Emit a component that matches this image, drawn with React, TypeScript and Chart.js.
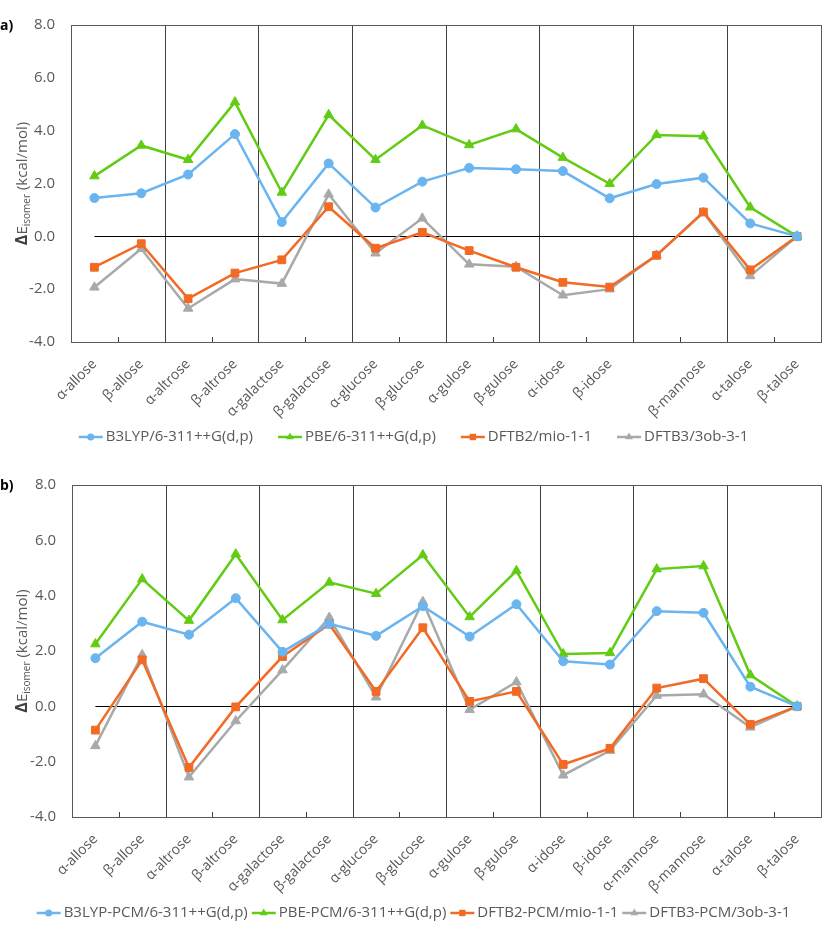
import React, { useEffect, useRef } from 'react';
import { Chart, registerables } from 'chart.js';

Chart.register(...registerables);
Chart.defaults.font.family = "'Open Sans', sans-serif";

// ---------- data ----------
const categories = [
  'α-allose', 'β-allose', 'α-altrose', 'β-altrose', 'α-galactose', 'β-galactose',
  'α-glucose', 'β-glucose', 'α-gulose', 'β-gulose', 'α-idose', 'β-idose',
  'α-mannose', 'β-mannose', 'α-talose', 'β-talose',
];
// panel a) shows no label under α-mannose
const categoriesA = categories.map((c) => (c === 'α-mannose' ? '' : c));

const yTickValues = [-4, -2, 0, 2, 4, 6, 8];

const labelsA = ['B3LYP/6-311++G(d,p)', 'PBE/6-311++G(d,p)', 'DFTB2/mio-1-1', 'DFTB3/3ob-3-1'];
const labelsB = ['B3LYP-PCM/6-311++G(d,p)', 'PBE-PCM/6-311++G(d,p)', 'DFTB2-PCM/mio-1-1', 'DFTB3-PCM/3ob-3-1'];

const b3lypA = [1.45, 1.63, 2.34, 3.87, 0.54, 2.76, 1.09, 2.07, 2.59, 2.54, 2.47, 1.44, 1.98, 2.22, 0.49, 0.0];
const pbeA = [2.28, 3.44, 2.9, 5.08, 1.66, 4.6, 2.9, 4.2, 3.46, 4.06, 2.98, 1.99, 3.84, 3.79, 1.1, 0.0];
const dftb2A = [-1.17, -0.28, -2.36, -1.39, -0.89, 1.12, -0.45, 0.15, -0.54, -1.17, -1.74, -1.92, -0.72, 0.92, -1.27, 0.0];
const dftb3A = [-1.93, -0.47, -2.73, -1.62, -1.79, 1.59, -0.64, 0.68, -1.06, -1.15, -2.23, -2.0, -0.72, 0.9, -1.5, 0.0];

const b3lypB = [1.74, 3.06, 2.59, 3.91, 1.97, 2.98, 2.55, 3.62, 2.52, 3.69, 1.63, 1.51, 3.44, 3.38, 0.71, 0.0];
const pbeB = [2.25, 4.6, 3.1, 5.5, 3.12, 4.48, 4.07, 5.47, 3.23, 4.9, 1.89, 1.93, 4.96, 5.07, 1.13, 0.0];
const dftb2B = [-0.86, 1.68, -2.21, -0.02, 1.8, 2.97, 0.54, 2.84, 0.18, 0.54, -2.1, -1.52, 0.66, 1.0, -0.65, 0.0];
const dftb3B = [-1.43, 1.86, -2.56, -0.53, 1.31, 3.21, 0.33, 3.78, -0.12, 0.88, -2.49, -1.6, 0.39, 0.44, -0.76, 0.0];

// ---------- styles ----------
const COLORS = ['#6AB4EF', '#62CC14', '#F26A24', '#A7AAA9'];
const STYLES: any[] = ['circle', 'triangle', 'rect', 'triangle'];
const RADII = [4.5, 5.5, 5.5, 5.5];
const TEXT = '#595959';
const FONT = "'Open Sans', sans-serif";

function drawMarker(ctx: CanvasRenderingContext2D, style: string, x: number, y: number, r: number) {
  ctx.beginPath();
  if (style === 'circle') {
    ctx.arc(x, y, r, 0, Math.PI * 2);
  } else if (style === 'rect') {
    const s = r * Math.SQRT1_2;
    ctx.rect(x - s, y - s, 2 * s, 2 * s);
  } else {
    ctx.moveTo(x, y - r);
    ctx.lineTo(x + r * 0.866, y + r * 0.5);
    ctx.lineTo(x - r * 0.866, y + r * 0.5);
    ctx.closePath();
  }
  ctx.fill();
}

function decorPlugin(panel: string, legendY: number, legendGap: number) {
  return {
    id: 'decor',
    beforeDatasetsDraw(chart: any) {
      const { ctx, chartArea: a, scales } = chart;
      const xs = scales.x;
      const ys = scales.y;
      const n = chart.data.labels.length;
      const half = (xs.getPixelForValue(1) - xs.getPixelForValue(0)) / 2;
      ctx.save();
      ctx.lineWidth = 1;
      ctx.strokeStyle = '#404040';
      for (let i = 1; i < n; i++) {
        const px = Math.round(xs.getPixelForValue(i) - half) + 0.5;
        ctx.beginPath();
        if (i % 2 === 0) {
          ctx.moveTo(px, a.top);
          ctx.lineTo(px, a.bottom);
        } else {
          ctx.moveTo(px, a.bottom);
          ctx.lineTo(px, a.bottom - 5);
        }
        ctx.stroke();
      }
      ctx.strokeStyle = '#595959';
      ctx.strokeRect(Math.round(a.left) + 0.5, Math.round(a.top) + 0.5, Math.round(a.right - a.left), Math.round(a.bottom - a.top));
      const y0 = Math.round(ys.getPixelForValue(0)) + 0.5;
      ctx.strokeStyle = '#000000';
      ctx.beginPath();
      ctx.moveTo(xs.getPixelForValue(0), y0);
      ctx.lineTo(xs.getPixelForValue(n - 1), y0);
      ctx.stroke();
      ctx.restore();
    },
    afterDraw(chart: any) {
      const { ctx, chartArea: a } = chart;
      ctx.save();
      // panel label
      ctx.fillStyle = '#000';
      ctx.font = `bold 14px ${FONT}`;
      ctx.textBaseline = 'middle';
      ctx.textAlign = 'left';
      ctx.fillText(panel, 0, a.top + 1);

      // y axis title with subscript
      const parts = [
        { t: 'Δ', f: `bold 16px ${FONT}`, dy: 0 },
        { t: 'E', f: `15px ${FONT}`, dy: 0 },
        { t: 'isomer', f: `10px ${FONT}`, dy: 3 },
        { t: ' (kcal/mol)', f: `15px ${FONT}`, dy: 0 },
      ];
      let tw = 0;
      const ws = parts.map((p) => {
        ctx.font = p.f;
        const w = ctx.measureText(p.t).width;
        tw += w;
        return w;
      });
      ctx.translate(22, (a.top + a.bottom) / 2);
      ctx.rotate(-Math.PI / 2);
      ctx.textBaseline = 'alphabetic';
      let cx = -tw / 2;
      parts.forEach((p, i) => {
        ctx.font = p.f;
        ctx.fillStyle = i === 0 ? '#404040' : TEXT;
        ctx.fillText(p.t, cx, 5 + p.dy);
        cx += ws[i];
      });
      ctx.restore();

      // legend
      ctx.save();
      ctx.font = `15px ${FONT}`;
      ctx.textBaseline = 'middle';
      const sw = 24;
      const tg = 3;
      const items = chart.data.datasets.map((ds: any, i: number) => ({
        label: ds.label,
        color: ds.borderColor,
        style: STYLES[i],
        w: ctx.measureText(ds.label).width,
      }));
      const total = items.reduce((s: number, it: any) => s + sw + tg + it.w, 0) + legendGap * (items.length - 1);
      let lx = (chart.width - total) / 2;
      items.forEach((it: any) => {
        ctx.strokeStyle = it.color;
        ctx.fillStyle = it.color;
        ctx.lineWidth = 2.5;
        ctx.beginPath();
        ctx.moveTo(lx, legendY);
        ctx.lineTo(lx + sw, legendY);
        ctx.stroke();
        drawMarker(ctx, it.style, lx + sw / 2, legendY, it.style === 'circle' ? 3.5 : 4.5);
        ctx.fillStyle = TEXT;
        ctx.fillText(it.label, lx + sw + tg, legendY);
        lx += sw + tg + it.w + legendGap;
      });
      ctx.restore();
    },
  };
}

type PanelProps = {
  panel: string;
  labels: string[];
  seriesLabels: string[];
  series: number[][];
  height: number;
  plotTop: number;
  yAxisWidth: number;
  xAxisHeight: number;
  legendY: number;
  legendGap: number;
};

function Panel(props: PanelProps) {
  const ref = useRef<HTMLCanvasElement | null>(null);
  useEffect(() => {
    if (!ref.current) return;
    const chart = new Chart(ref.current, {
      type: 'line',
      data: {
        labels: props.labels,
        datasets: props.series.map((d, i) => ({
          label: props.seriesLabels[i],
          data: d,
          borderColor: COLORS[i],
          backgroundColor: COLORS[i],
          pointBackgroundColor: COLORS[i],
          pointBorderColor: COLORS[i],
          pointStyle: STYLES[i],
          pointRadius: RADII[i],
          pointBorderWidth: 1,
          borderWidth: 2.5,
          tension: 0,
          fill: false,
        })),
      },
      options: {
        responsive: false,
        animation: false,
        layout: { padding: { top: props.plotTop, right: 3, left: 0, bottom: 0 } },
        plugins: {
          legend: { display: false },
          tooltip: { enabled: false },
        },
        scales: {
          x: {
            type: 'category',
            offset: true,
            grid: { display: false, drawTicks: false },
            border: { display: false },
            ticks: {
              autoSkip: false,
              maxRotation: 45,
              minRotation: 45,
              padding: 14,
              color: TEXT,
              font: { size: 14, family: FONT },
            },
            afterFit: (s: any) => {
              s.height = props.xAxisHeight;
            },
          },
          y: {
            min: -4,
            max: 8,
            afterBuildTicks: (s: any) => {
              s.ticks = yTickValues.map((v) => ({ value: v }));
            },
            grid: { display: false, drawTicks: false },
            border: { display: false },
            ticks: {
              padding: 16,
              color: TEXT,
              font: { size: 15, family: FONT },
              callback: (v: any) => Number(v).toFixed(1),
            },
            afterFit: (s: any) => {
              s.width = props.yAxisWidth;
            },
          },
        },
      },
      plugins: [decorPlugin(props.panel, props.legendY, props.legendGap)],
    } as any);
    return () => chart.destroy();
  }, []);
  return <canvas ref={ref} width={827} height={props.height} style={{ display: 'block', width: 827, height: props.height }} />;
}

export default function App() {
  return (
    <div style={{ position: 'absolute', left: 0, top: 0, width: 827, height: 926, background: '#fff' }}>
      <Panel
        panel="a)"
        labels={categoriesA}
        seriesLabels={labelsA}
        series={[b3lypA, pbeA, dftb2A, dftb3A]}
        height={460}
        plotTop={8}
        yAxisWidth={71}
        xAxisHeight={118}
        legendY={437}
        legendGap={25}
      />
      <Panel
        panel="b)"
        labels={categories}
        seriesLabels={labelsB}
        series={[b3lypB, pbeB, dftb2B, dftb3B]}
        height={466}
        plotTop={22}
        yAxisWidth={72}
        xAxisHeight={109}
        legendY={453}
        legendGap={4}
      />
    </div>
  );
}
